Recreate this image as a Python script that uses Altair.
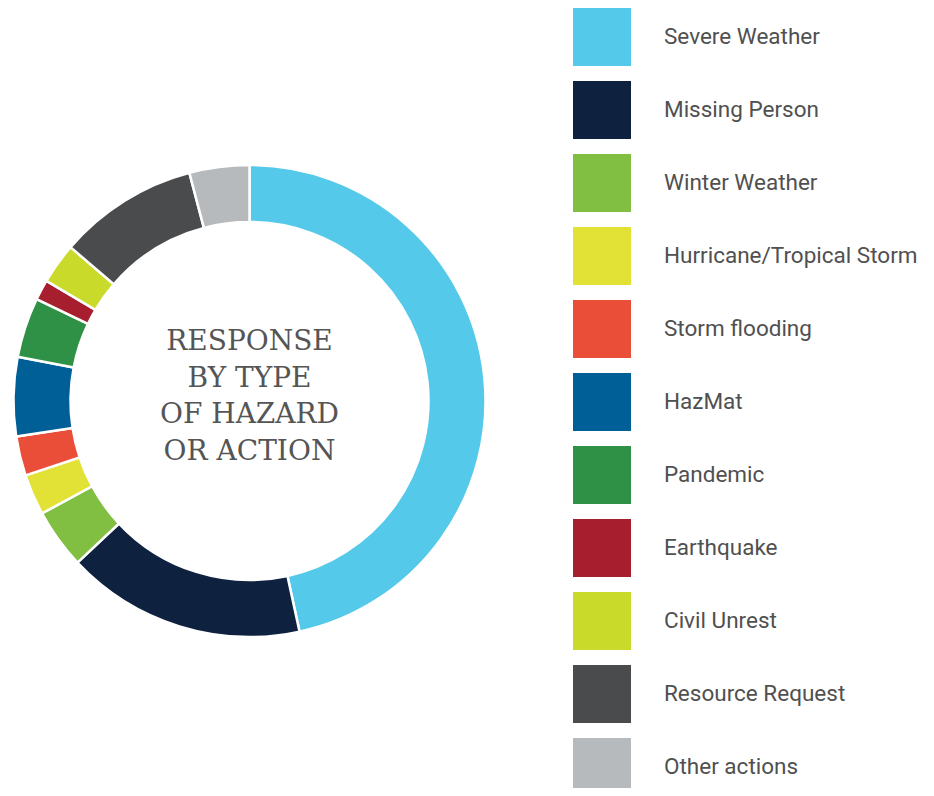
import altair as alt
import pandas as pd

categories = ["Severe Weather", "Missing Person", "Winter Weather", "Hurricane/Tropical Storm",
              "Storm flooding", "HazMat", "Pandemic", "Earthquake", "Civil Unrest",
              "Resource Request", "Other actions"]
shares = [46.6, 16.4, 4.1, 2.8, 2.7, 5.4, 4.1, 1.4, 2.8, 9.6, 4.1]
colors = ["#55c9ea", "#0e213e", "#80bf41", "#e2e236", "#ea4d38", "#005f96",
          "#2f9146", "#a71e2f", "#c9da2a", "#4a4b4d", "#b6babd"]
center_lines = ["RESPONSE", "BY TYPE", "OF HAZARD", "OR ACTION"]

df = pd.DataFrame({"category": categories, "share": shares, "order": list(range(len(categories)))})

cx, cy = 241.5, 393

donut = alt.Chart(df).mark_arc(
    outerRadius=236, innerRadius=179, stroke="white", strokeWidth=2.5
).encode(
    theta=alt.Theta("share:Q", stack=True),
    order=alt.Order("order:Q", sort="ascending"),
    color=alt.Color(
        "category:N",
        scale=alt.Scale(domain=categories, range=colors),
        legend=alt.Legend(
            title=None,
            orient="none",
            legendX=565,
            legendY=0,
            symbolType="square",
            symbolSize=3364,
            symbolStrokeWidth=0,
            symbolOpacity=1,
            rowPadding=15,
            labelFontSize=22.5,
            labelFont="Roboto",
            labelColor="#505050",
            labelOffset=33,
            labelLimit=400,
            padding=0,
        ),
    ),
    x=alt.value(cx),
    y=alt.value(cy),
)

center = alt.Chart(pd.DataFrame({"t": [0]})).mark_text(
    font="DejaVu Serif", fontSize=28, color="#555555", align="center",
    baseline="middle", lineHeight=36.5
).encode(
    x=alt.value(cx),
    y=alt.value(334),
    text=alt.value(center_lines),
)

chart = alt.layer(donut, center).properties(
    width=918, height=780, padding=0, autosize="none"
).configure_view(stroke=None)

chart.save("out.html", embed_options={"renderer": "svg", "actions": False})
